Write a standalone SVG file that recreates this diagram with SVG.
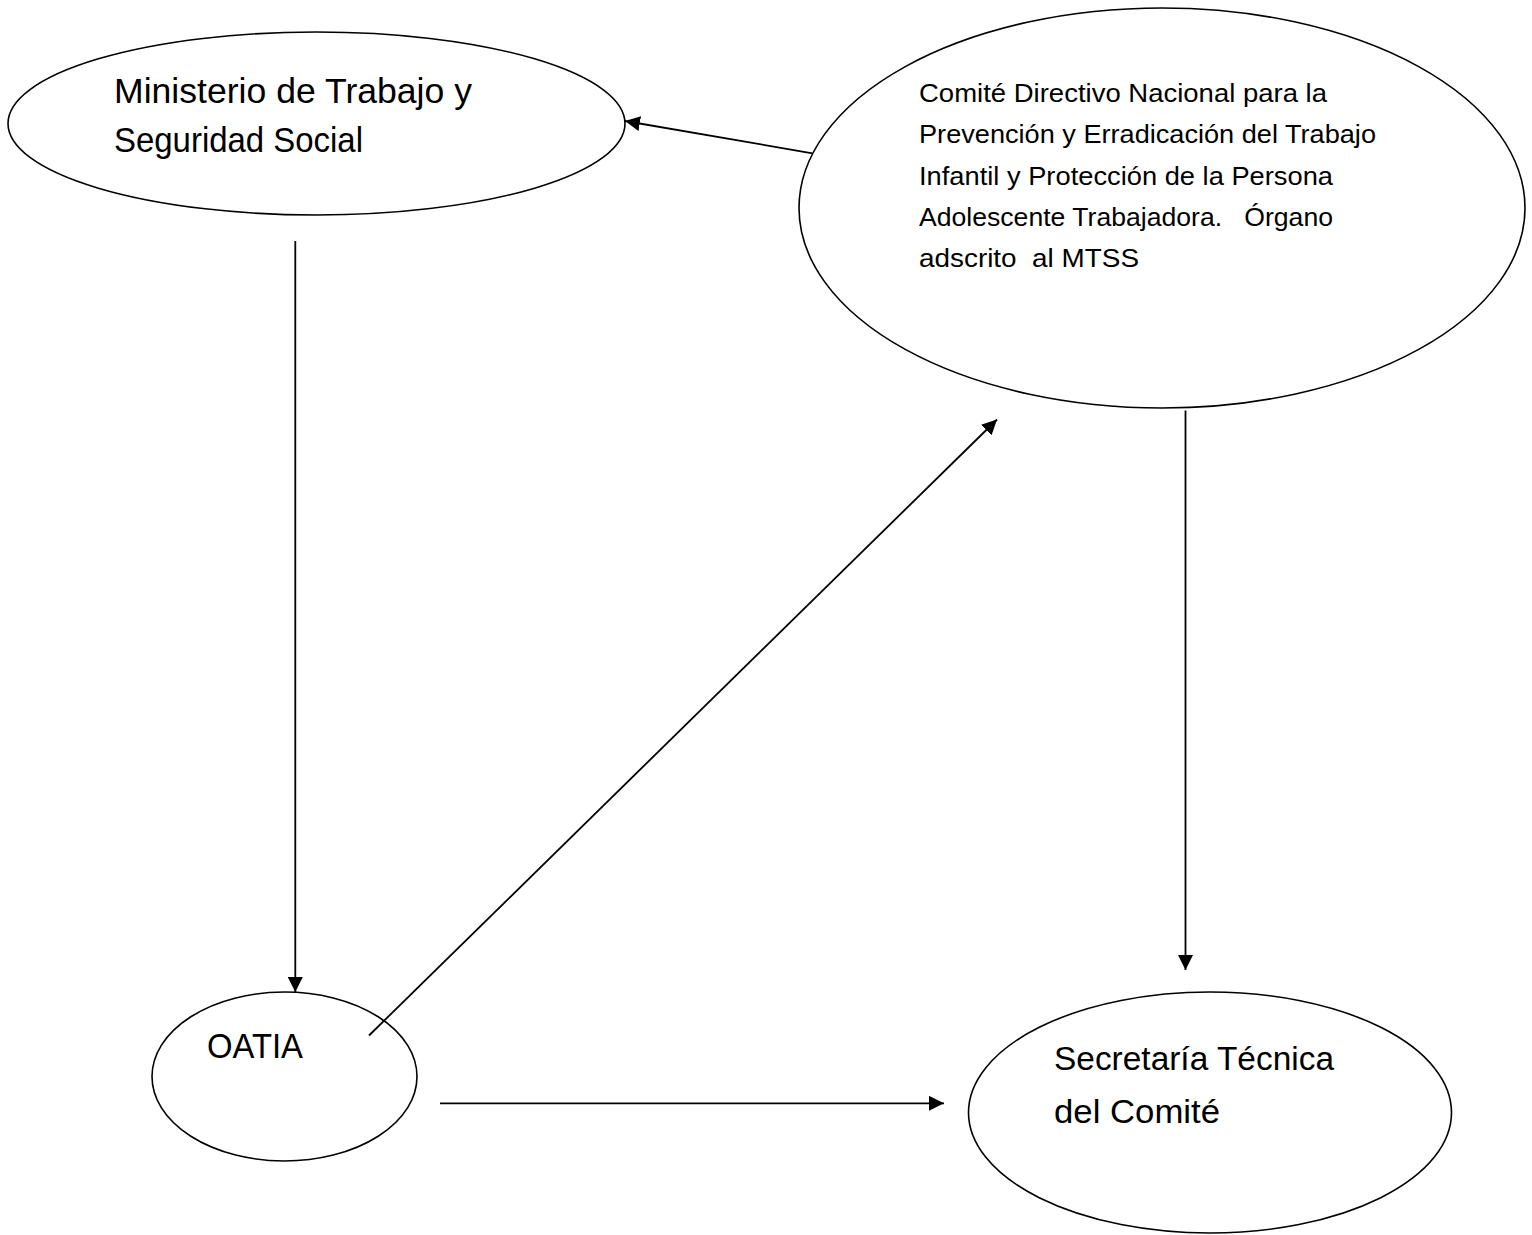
<svg xmlns="http://www.w3.org/2000/svg" width="1532" height="1235" viewBox="0 0 1532 1235">
<style>
.node{fill:#fff;stroke:#000;stroke-width:1.6}
.lbl{font-family:"Liberation Sans",Arial,sans-serif;fill:#000;white-space:pre}
.edge{stroke:#000;stroke-width:1.8;fill:none;marker-end:url(#arrow)}
</style>
<defs>
<marker id="arrow" markerUnits="userSpaceOnUse" viewBox="0 0 15 15" refX="15" refY="7.5" markerWidth="15" markerHeight="15" orient="auto">
<path d="M0,0 L15,7.5 L0,15 z" fill="#000"/>
</marker>
</defs>
<rect width="1532" height="1235" fill="#fff"/>
<g id="ministerio">
<ellipse class="node" cx="316.5" cy="123.5" rx="308.5" ry="91.5"/>
<text class="lbl" font-size="35" x="114" y="103.3" textLength="358" lengthAdjust="spacingAndGlyphs">Ministerio de Trabajo y</text>
<text class="lbl" font-size="35" x="114" y="151.7" textLength="249" lengthAdjust="spacingAndGlyphs">Seguridad Social</text>
</g>
<g id="comite">
<ellipse class="node" cx="1162" cy="208" rx="363" ry="200"/>
<text class="lbl" font-size="25.5" x="919" y="101.5" textLength="408" lengthAdjust="spacingAndGlyphs">Comité Directivo Nacional para la</text>
<text class="lbl" font-size="25.5" x="919" y="143" textLength="457" lengthAdjust="spacingAndGlyphs">Prevención y Erradicación del Trabajo</text>
<text class="lbl" font-size="25.5" x="919" y="184.5" textLength="414" lengthAdjust="spacingAndGlyphs">Infantil y Protección de la Persona</text>
<text class="lbl" font-size="25.5" x="919" y="226" textLength="414" lengthAdjust="spacingAndGlyphs" xml:space="preserve">Adolescente Trabajadora.   Órgano</text>
<text class="lbl" font-size="25.5" x="919" y="267" textLength="220" lengthAdjust="spacingAndGlyphs" xml:space="preserve">adscrito  al MTSS</text>
</g>
<g id="oatia">
<ellipse class="node" cx="284.5" cy="1076.5" rx="132.5" ry="84.5"/>
<text class="lbl" font-size="35" x="207" y="1058" textLength="96" lengthAdjust="spacingAndGlyphs">OATIA</text>
</g>
<g id="secretaria">
<ellipse class="node" cx="1210" cy="1112.5" rx="241.5" ry="120.5"/>
<text class="lbl" font-size="33.5" x="1054" y="1070" textLength="280" lengthAdjust="spacingAndGlyphs">Secretaría Técnica</text>
<text class="lbl" font-size="33.5" x="1054" y="1122.5" textLength="166" lengthAdjust="spacingAndGlyphs">del Comité</text>
</g>
<g id="connectors">
<line class="edge" x1="812.5" y1="153.3" x2="625" y2="121"/>
<line class="edge" x1="295.3" y1="241" x2="295.3" y2="992"/>
<line class="edge" x1="369" y1="1035.5" x2="997" y2="419.5"/>
<line class="edge" x1="1185.5" y1="410.5" x2="1185.5" y2="970"/>
<line class="edge" x1="440" y1="1103.3" x2="944" y2="1103.3"/>
</g>
</svg>
